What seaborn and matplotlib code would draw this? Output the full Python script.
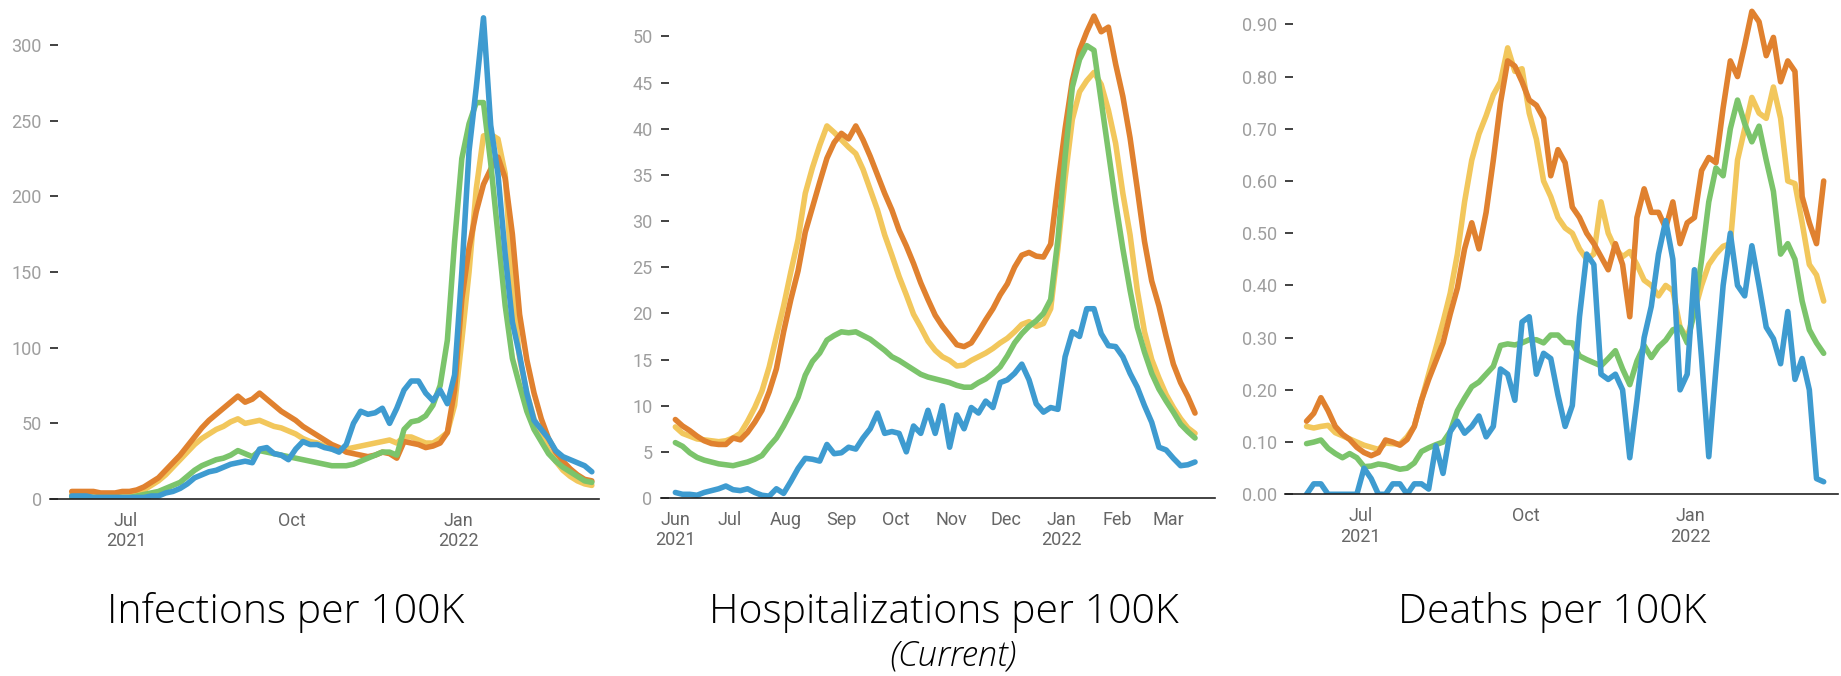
"""
Three small-multiple line charts: infections, current hospitalizations and
deaths per 100K, four series each, Jun 2021 - Mar 2022.
"""

import numpy as np
import pandas as pd
import matplotlib.pyplot as plt
import matplotlib as mpl
import seaborn as sns


# sampling dates (every 4 days), shared by all three panels
DATES = pd.date_range("2021-06-01", periods=73, freq="4D")
SERIES = ["yellow", "orange", "green", "blue"]  # draw order (blue on top)
PALETTE = {"yellow": "#F2C75C", "orange": "#E0812F",
           "green": "#7BC46B", "blue": "#3E9BD0"}

# ---- infections per 100K ----
INF_ORANGE = [5, 5, 5, 5, 4, 4, 4, 5, 5, 6,
              8, 11, 14, 19, 24, 29, 35, 41, 47, 52,
              56, 60, 64, 68, 64, 66, 70, 66, 62, 58,
              55, 52, 48, 45, 42, 39, 36, 34, 31, 30,
              29, 28, 29, 31, 30, 27, 38, 37, 36, 34,
              35, 37, 44, 72, 132, 166, 190, 208, 218, 226,
              212, 175, 122, 92, 70, 53, 40, 31, 25, 20,
              16, 13, 12]
INF_YELLOW = [3, 3, 3, 2, 2, 2, 2, 2, 3, 4,
              6, 9, 12, 16, 21, 26, 31, 36, 40, 43,
              46, 48, 51, 53, 50, 51, 52, 50, 48, 47,
              45, 43, 40, 38, 37, 35, 33, 32, 33, 34,
              35, 36, 37, 38, 39, 37, 41, 41, 39, 37,
              37, 40, 44, 62, 105, 150, 205, 240, 241, 238,
              215, 140, 93, 70, 53, 42, 32, 25, 19, 15,
              12, 10, 9]
INF_GREEN = [1, 1, 1, 1, 1, 1, 1, 1, 1, 2,
             3, 4, 5, 7, 9, 11, 15, 19, 22, 24,
             26, 27, 29, 32, 30, 28, 32, 31, 30, 29,
             28, 27, 26, 25, 24, 23, 22, 22, 22, 23,
             25, 27, 29, 31, 31, 29, 46, 51, 52, 55,
             62, 75, 105, 170, 225, 248, 262, 262, 222, 175,
             128, 93, 75, 58, 46, 38, 30, 25, 21, 18,
             15, 12, 11]
INF_BLUE = [2, 2, 2, 1, 1, 1, 1, 1, 1, 1,
            1, 2, 2, 4, 5, 7, 10, 14, 16, 18,
            19, 21, 23, 24, 25, 24, 33, 34, 30, 29,
            26, 33, 38, 36, 36, 34, 33, 31, 36, 50,
            58, 56, 57, 60, 50, 60, 72, 78, 78, 70,
            65, 72, 63, 82, 150, 230, 272, 318, 247, 215,
            162, 117, 95, 70, 52, 46, 40, 32, 28, 26,
            24, 22, 18]

# ---- hospitalizations per 100K (current) ----
HOSP_ORANGE = [8.5, 7.8, 7.3, 6.7, 6.2, 5.9, 5.8, 5.8, 6.5, 6.3,
               7.1, 8.2, 9.5, 11.5, 14.0, 18.0, 21.5, 24.6, 28.8, 31.5,
               34.2, 36.8, 38.5, 39.5, 38.9, 40.3, 38.8, 37.0, 35.0, 33.0,
               31.2, 29.0, 27.3, 25.4, 23.3, 21.5, 19.8, 18.6, 17.6, 16.6,
               16.4, 16.8, 18.0, 19.3, 20.5, 22.0, 23.2, 25.0, 26.3, 26.6,
               26.2, 26.1, 27.5, 34.0, 40.0, 45.2, 48.5, 50.5, 52.2, 50.5,
               51.0, 47.0, 43.5, 39.0, 33.5, 27.8, 23.5, 20.8, 17.5, 14.5,
               12.5, 11.0, 9.2]
HOSP_YELLOW = [7.7, 7.0, 6.7, 6.4, 6.3, 6.2, 6.1, 6.2, 6.5, 7.0,
               8.3, 9.8, 11.6, 14.2, 17.5, 20.8, 24.5, 28.0, 33.0, 35.8,
               38.2, 40.3, 39.6, 38.8, 38.0, 37.3, 35.6, 33.4, 31.2, 28.5,
               26.3, 24.0, 22.0, 19.9, 18.5, 17.0, 16.0, 15.3, 14.9, 14.3,
               14.4, 14.9, 15.3, 15.7, 16.2, 16.8, 17.3, 18.0, 18.8, 19.1,
               18.6, 18.9, 20.5, 27.0, 34.6, 41.0, 44.0, 45.2, 46.1, 44.8,
               42.0, 38.4, 33.0, 28.5, 22.5, 18.0, 15.0, 13.0, 11.2, 9.8,
               8.6, 7.6, 7.0]
HOSP_GREEN = [6.0, 5.6, 4.9, 4.4, 4.1, 3.9, 3.7, 3.6, 3.5, 3.7,
              3.9, 4.2, 4.6, 5.6, 6.5, 7.8, 9.3, 10.9, 13.3, 14.8,
              15.7, 17.1, 17.6, 18.0, 17.9, 18.0, 17.6, 17.2, 16.6, 16.0,
              15.3, 14.9, 14.4, 13.9, 13.4, 13.1, 12.9, 12.7, 12.5, 12.2,
              12.0, 12.0, 12.5, 12.9, 13.5, 14.2, 15.4, 16.8, 17.8, 18.6,
              19.2, 20.0, 21.5, 28.0, 37.0, 44.5, 47.5, 49.0, 48.5, 43.0,
              37.5, 32.0, 27.0, 22.5, 18.5, 15.8, 13.5, 11.8, 10.5, 9.3,
              8.0, 7.2, 6.5]
HOSP_BLUE = [0.6, 0.4, 0.4, 0.3, 0.6, 0.8, 1.0, 1.3, 0.9, 0.8,
             1.0, 0.6, 0.3, 0.2, 1.0, 0.5, 1.8, 3.2, 4.3, 4.2,
             4.0, 5.8, 4.8, 4.9, 5.5, 5.3, 6.5, 7.5, 9.2, 7.0,
             7.2, 7.0, 5.0, 7.8, 7.0, 9.5, 7.0, 10.0, 5.5, 9.0,
             7.5, 9.8, 9.2, 10.5, 9.8, 12.5, 12.8, 13.5, 14.5, 12.8,
             10.2, 9.3, 9.8, 9.6, 15.3, 18.0, 17.5, 20.5, 20.5, 17.8,
             16.5, 16.4, 15.3, 13.5, 12.0, 10.0, 8.2, 5.5, 5.2, 4.3,
             3.5, 3.6, 3.9]

# ---- deaths per 100K ----
DEATH_ORANGE = [0.14, 0.155, 0.185, 0.16, 0.13, 0.115, 0.105, 0.09, 0.08, 0.074,
                0.08, 0.104, 0.10, 0.094, 0.105, 0.13, 0.18, 0.22, 0.255, 0.29,
                0.345, 0.395, 0.47, 0.52, 0.47, 0.54, 0.64, 0.75, 0.83, 0.82,
                0.79, 0.755, 0.745, 0.72, 0.61, 0.66, 0.635, 0.55, 0.53, 0.50,
                0.48, 0.455, 0.43, 0.48, 0.44, 0.34, 0.53, 0.585, 0.54, 0.54,
                0.51, 0.56, 0.48, 0.52, 0.53, 0.62, 0.645, 0.635, 0.74, 0.83,
                0.80, 0.86, 0.925, 0.905, 0.84, 0.875, 0.79, 0.83, 0.81, 0.57,
                0.52, 0.48, 0.60]
DEATH_YELLOW = [0.13, 0.127, 0.13, 0.132, 0.118, 0.112, 0.106, 0.10, 0.094, 0.09,
                0.086, 0.098, 0.097, 0.096, 0.11, 0.13, 0.18, 0.23, 0.28, 0.33,
                0.385, 0.46, 0.56, 0.64, 0.69, 0.725, 0.765, 0.79, 0.855, 0.81,
                0.815, 0.73, 0.68, 0.60, 0.57, 0.53, 0.51, 0.50, 0.47, 0.45,
                0.46, 0.56, 0.50, 0.47, 0.455, 0.465, 0.44, 0.41, 0.40, 0.38,
                0.40, 0.39, 0.32, 0.30, 0.35, 0.40, 0.44, 0.46, 0.475, 0.48,
                0.64, 0.70, 0.76, 0.73, 0.72, 0.78, 0.72, 0.60, 0.595, 0.52,
                0.44, 0.42, 0.37]
DEATH_GREEN = [0.097, 0.10, 0.104, 0.088, 0.078, 0.07, 0.078, 0.07, 0.053, 0.054,
               0.058, 0.056, 0.052, 0.048, 0.05, 0.06, 0.082, 0.089, 0.095, 0.10,
               0.12, 0.16, 0.184, 0.206, 0.215, 0.23, 0.245, 0.285, 0.288, 0.286,
               0.29, 0.296, 0.296, 0.29, 0.305, 0.305, 0.291, 0.29, 0.265, 0.258,
               0.252, 0.246, 0.26, 0.275, 0.24, 0.21, 0.255, 0.285, 0.262, 0.282,
               0.295, 0.315, 0.32, 0.29, 0.35, 0.45, 0.56, 0.625, 0.61, 0.70,
               0.755, 0.71, 0.675, 0.705, 0.64, 0.58, 0.46, 0.48, 0.45, 0.37,
               0.315, 0.29, 0.27]
DEATH_BLUE = [0, 0.02, 0.02, 0, 0, 0, 0, 0, 0.05, 0.03,
              0, 0, 0.02, 0.02, 0, 0.02, 0.02, 0.01, 0.093, 0.04,
              0.12, 0.14, 0.117, 0.13, 0.15, 0.11, 0.13, 0.24, 0.23, 0.18,
              0.33, 0.34, 0.23, 0.27, 0.26, 0.19, 0.13, 0.17, 0.34, 0.46,
              0.44, 0.23, 0.22, 0.23, 0.20, 0.07, 0.18, 0.30, 0.36, 0.46,
              0.524, 0.45, 0.20, 0.23, 0.43, 0.26, 0.072, 0.24, 0.40, 0.50,
              0.40, 0.38, 0.476, 0.40, 0.32, 0.298, 0.25, 0.35, 0.22, 0.26,
              0.20, 0.03, 0.024]

# axis ticks / labels
INF_YTICKS = [0, 50, 100, 150, 200, 250, 300]
HOSP_YTICKS = [0, 5, 10, 15, 20, 25, 30, 35, 40, 45, 50]
DEATH_YTICKS = [0.0, 0.1, 0.2, 0.3, 0.4, 0.5, 0.6, 0.7, 0.8, 0.9]
QUARTER_TICKS = ["2021-07-01", "2021-10-01", "2022-01-01"]
QUARTER_LABELS = ["Jul\n2021", "Oct", "Jan\n2022"]
MONTH_TICKS = ["2021-06-01", "2021-07-01", "2021-08-01", "2021-09-01",
               "2021-10-01", "2021-11-01", "2021-12-01", "2022-01-01",
               "2022-02-01", "2022-03-01"]
MONTH_LABELS = ["Jun\n2021", "Jul", "Aug", "Sep", "Oct", "Nov", "Dec",
                "Jan\n2022", "Feb", "Mar"]

TITLES = ["Infections per 100K", "Hospitalizations per 100K", "Deaths per 100K"]


def to_long(values_by_series):
    frames = []
    for name in SERIES:
        frames.append(pd.DataFrame({"date": DATES, "value": values_by_series[name],
                                    "series": name}))
    return pd.concat(frames, ignore_index=True)


def style_axis(ax, yticks, yfmt, xticks, xlabels, ylim, xlim):
    ax.set_ylim(*ylim)
    ax.set_xlim(pd.Timestamp(xlim[0]), pd.Timestamp(xlim[1]))
    ax.set_yticks(yticks)
    ax.set_yticklabels([yfmt.format(v) for v in yticks])
    ax.set_xticks(pd.to_datetime(xticks))
    ax.set_xticklabels(xlabels)
    ax.set_xlabel("")
    ax.set_ylabel("")
    for side in ["left", "top", "right"]:
        ax.spines[side].set_visible(False)
    ax.spines["bottom"].set_color("#222222")
    ax.spines["bottom"].set_linewidth(1.2)
    ax.tick_params(axis="y", left=True, direction="in", length=6, width=1.3,
                   color="#333333", labelcolor="#9e9e9e", labelsize=13, pad=6)
    ax.tick_params(axis="x", bottom=True, length=0, labelcolor="#666666",
                   labelsize=13, pad=9)
    ax.grid(False)


def main():
    sns.set_style("white")
    mpl.rcParams["font.family"] = ["Roboto", "DejaVu Sans"]

    fig = plt.figure(figsize=(18.41, 6.76), dpi=100)
    ax1 = fig.add_axes([0.0272, 0.2618, 0.2982, 0.7308])
    ax2 = fig.add_axes([0.3590, 0.2633, 0.3009, 0.7293])
    ax3 = fig.add_axes([0.6980, 0.2688, 0.3004, 0.7253])

    panels = [
        (ax1, {"orange": INF_ORANGE, "yellow": INF_YELLOW, "green": INF_GREEN,
               "blue": INF_BLUE}),
        (ax2, {"orange": HOSP_ORANGE, "yellow": HOSP_YELLOW, "green": HOSP_GREEN,
               "blue": HOSP_BLUE}),
        (ax3, {"orange": DEATH_ORANGE, "yellow": DEATH_YELLOW,
               "green": DEATH_GREEN, "blue": DEATH_BLUE}),
    ]
    for ax, vals in panels:
        sns.lineplot(ax=ax, data=to_long(vals), x="date", y="value",
                     hue="series", hue_order=SERIES, palette=PALETTE,
                     linewidth=4.0, legend=False, estimator=None,
                     solid_capstyle="round", solid_joinstyle="round")

    style_axis(ax1, INF_YTICKS, "{:.0f}", QUARTER_TICKS, QUARTER_LABELS,
               (0, 326.5), ("2021-05-20", "2022-03-20"))
    style_axis(ax2, HOSP_YTICKS, "{:.0f}", MONTH_TICKS, MONTH_LABELS,
               (0, 53.4), ("2021-05-24", "2022-03-27"))
    style_axis(ax3, DEATH_YTICKS, "{:.2f}", QUARTER_TICKS, QUARTER_LABELS,
               (0, 0.939), ("2021-05-20", "2022-03-24"))

    title_font = dict(family=["Open Sans", "DejaVu Sans"], weight=300,
                      size=29.5, color="#000000", ha="center", va="baseline")
    fig.text(0.1554, 0.0784, TITLES[0], **title_font)
    fig.text(0.5128, 0.0784, TITLES[1], **title_font)
    fig.text(0.8430, 0.0784, TITLES[2], **title_font)
    fig.text(0.5177, 0.0150, "(Current)", style="italic",
             **{**title_font, "size": 25})

    fig.savefig("out.png", dpi=100)
    plt.close(fig)


if __name__ == "__main__":
    main()
